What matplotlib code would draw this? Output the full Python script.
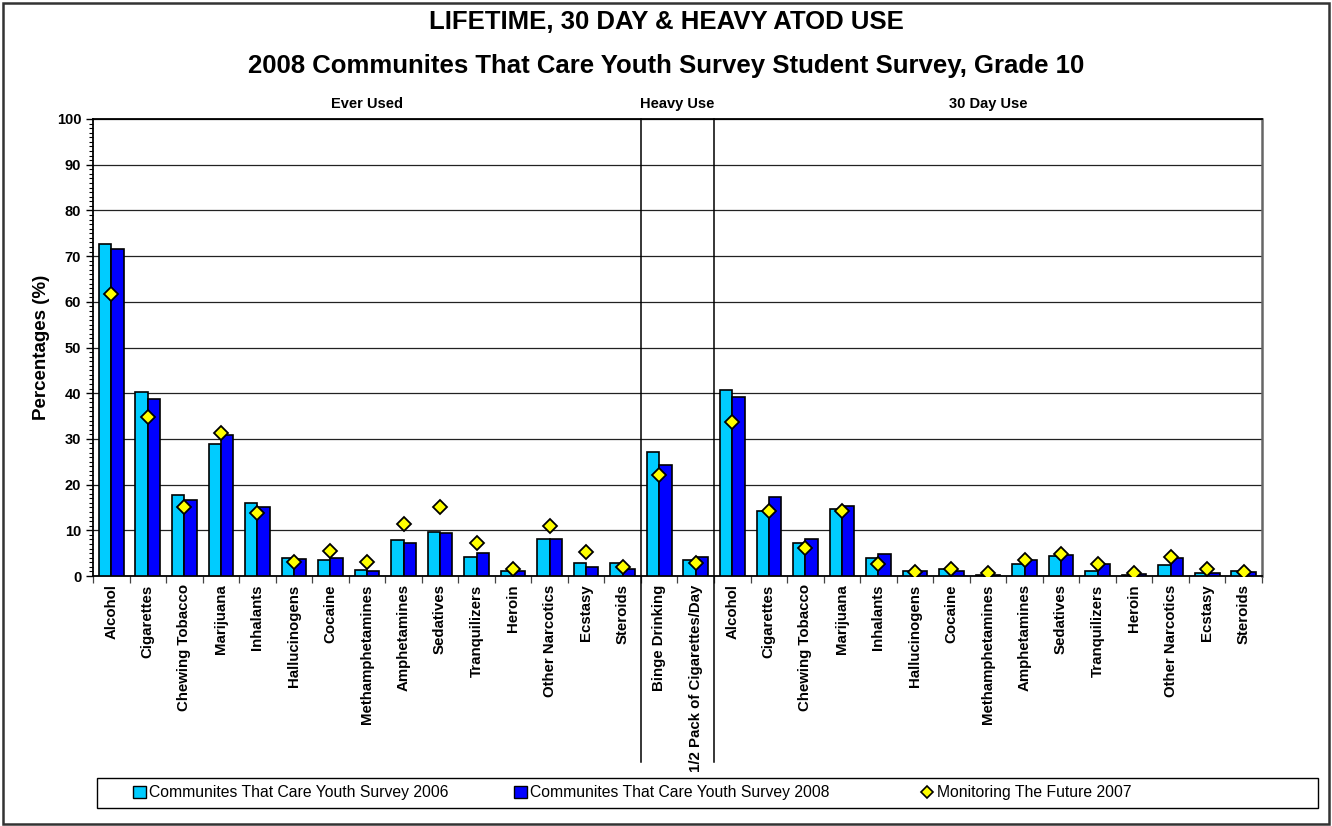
import matplotlib
matplotlib.use("Agg")
import matplotlib.pyplot as plt
from matplotlib.patches import Rectangle, Patch
from matplotlib.lines import Line2D
import numpy as np

plt.rcParams['font.family'] = ['Liberation Sans', 'DejaVu Sans']

drugs = ["Alcohol", "Cigarettes", "Chewing Tobacco", "Marijuana", "Inhalants",
         "Hallucinogens", "Cocaine", "Methamphetamines", "Amphetamines", "Sedatives",
         "Tranquilizers", "Heroin", "Other Narcotics", "Ecstasy", "Steroids"]
heavy = ["Binge Drinking", "1/2 Pack of Cigarettes/Day"]
categories = drugs + heavy + drugs

ctc_2006 = [72.6, 40.2, 17.7, 28.8, 15.9, 3.9, 3.5, 1.3, 7.8, 9.6, 4.1, 1.0, 8.1, 2.9, 2.8,
            27.2, 3.4,
            40.7, 14.2, 7.2, 14.7, 3.9, 1.2, 1.5, 0.15, 2.6, 4.3, 1.2, 0.2, 2.3, 0.7, 1.2]
ctc_2008 = [71.5, 38.8, 16.6, 30.9, 15.1, 3.7, 4.0, 1.2, 7.3, 9.3, 5.0, 1.2, 8.2, 2.0, 1.5,
            24.3, 4.2,
            39.2, 17.3, 8.1, 15.3, 4.9, 1.1, 1.2, 0.2, 3.6, 4.7, 2.6, 0.5, 4.0, 0.6, 0.8]
mtf_2007 = [61.7, 34.7, 15.2, 31.2, 13.7, 3.1, 5.5, 3.0, 11.4, 15.0, 7.3, 1.6, 10.9, 5.3, 1.9,
            22.0, 2.8,
            33.6, 14.2, 6.2, 14.3, 2.7, 0.9, 1.5, 0.6, 3.6, 4.8, 2.7, 0.6, 4.2, 1.5, 0.8]

sections = ["Ever Used", "Heavy Use", "30 Day Use"]
section_bounds = [(0, 15), (15, 17), (17, 32)]
series_labels = ["Communites That Care Youth Survey 2006",
                 "Communites That Care Youth Survey 2008",
                 "Monitoring The Future 2007"]

c06 = "#00CCFF"
c08 = "#0000FF"
cm = "#FFFF00"

W, H = 1332, 826
fig = plt.figure(figsize=(W / 100, H / 100), dpi=100)
ax = fig.add_axes([93 / W, 1 - 576 / H, (1262 - 93) / W, (576 - 119) / H])

n = len(categories)
x = np.arange(n) + 0.5
bw = 0.337
ax.bar(x - bw / 2, ctc_2006, width=bw, color=c06, edgecolor="black", linewidth=1.2, zorder=3)
ax.bar(x + bw / 2, ctc_2008, width=bw, color=c08, edgecolor="black", linewidth=1.2, zorder=3)
ax.plot(x, mtf_2007, linestyle="none", marker="D", markersize=7,
        markerfacecolor=cm, markeredgecolor="black", markeredgewidth=1.3, zorder=4)

ax.set_xlim(0, n)
ax.set_ylim(0, 100)
ax.set_yticks(np.arange(0, 101, 10))
ax.set_yticks(np.arange(0, 101, 1), minor=True)
ax.yaxis.grid(True, which="major", color="#222222", linewidth=0.9, zorder=0)
ax.set_axisbelow(True)

ax.set_xticks(np.arange(0, n + 1))
ax.set_xticklabels([])
ax.set_xticks(x, minor=True)
ax.set_xticklabels(categories, minor=True, rotation=90, fontsize=10.8, fontweight="bold")
ax.tick_params(axis="x", which="major", direction="out", length=5, width=0.9, color="#444444")
ax.tick_params(axis="x", which="minor", length=0, pad=6)
ax.tick_params(axis="y", which="major", direction="out", length=5, width=1, labelsize=10.5)
ax.tick_params(axis="y", which="minor", direction="out", length=3, width=0.8)
for lab in ax.get_yticklabels():
    lab.set_fontweight("bold")

for s in ["left", "bottom", "top"]:
    ax.spines[s].set_color("black")
    ax.spines[s].set_linewidth(1.3)
ax.spines["right"].set_color("#666666")
ax.spines["right"].set_linewidth(1.8)

ax.set_ylabel("Percentages (%)", fontsize=13.5, fontweight="bold", labelpad=5)

# section dividers and labels
for name, (a, b) in zip(sections, section_bounds):
    ax.text((a + b) / 2, 103.3, name, ha="center", va="center",
            fontsize=10.5, fontweight="bold")
for b in [15, 17]:
    ax.plot([b, b], [100, -40.7], color="black", linewidth=1.1, clip_on=False, zorder=5)

fig.text(0.5, 1 - 22 / H, "LIFETIME, 30 DAY & HEAVY ATOD USE", ha="center", va="center",
         fontsize=18.5, fontweight="bold")
fig.text(0.5, 1 - 66 / H,
         "2008 Communites That Care Youth Survey Student Survey, Grade 10",
         ha="center", va="center", fontsize=18.5, fontweight="bold")

# legend: framed box with three entries
fig.patches.append(Rectangle((97 / W, 1 - 808 / H), (1318 - 97) / W, 30 / H,
                             transform=fig.transFigure, fill=False,
                             edgecolor="black", linewidth=1.0))
handles = [Patch(facecolor=c06, edgecolor="black", linewidth=1.0),
           Patch(facecolor=c08, edgecolor="black", linewidth=1.0),
           Line2D([], [], linestyle="none", marker="D", markersize=6,
                  markerfacecolor=cm, markeredgecolor="black", markeredgewidth=1.2)]
entry_x = [133, 514, 921]
for h_, lab, ex in zip(handles, series_labels, entry_x):
    fig.legend([h_], [lab], loc="center left",
               bbox_to_anchor=(ex / W, 1 - 793 / H),
               fontsize=11.3, frameon=False,
               handlelength=0.8, handleheight=0.8, handletextpad=0.2,
               borderaxespad=0, borderpad=0)

fig.patches.append(Rectangle((3 / W, 2 / H), (W - 6) / W, (H - 5) / H,
                             transform=fig.transFigure, fill=False,
                             edgecolor="#333333", linewidth=1.8))

fig.savefig("out.png", dpi=100)
